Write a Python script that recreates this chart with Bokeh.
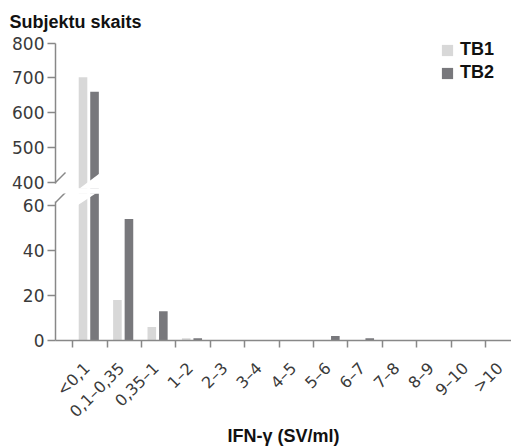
import math
from bokeh.plotting import figure
from bokeh.layouts import column
from bokeh.models import (Range1d, FixedTicker, Legend, LegendItem, Arrow,
                          ColumnDataSource, LinearAxis, CDSView, BooleanFilter)
from bokeh.transform import dodge
from bokeh.embed import file_html
from bokeh.resources import INLINE

# ---------------- data ----------------
categories = ["<0,1", "0,1–0,35", "0,35–1", "1–2", "2–3", "3–4", "4–5",
              "5–6", "6–7", "7–8", "8–9", "9–10", ">10"]
tb1 = [702, 18, 6, 1, 0, 0, 0, 0, 0, 0, 0, 0, 0]
tb2 = [660, 54, 13, 1, 0, 0, 0, 2, 1, 0, 0, 0, 0]
series_names = ["TB1", "TB2"]
upper_ticks = [400, 500, 600, 700, 800]
lower_ticks = [0, 20, 40, 60]
title_text = "Subjektu skaits"
x_title = "IFN-γ (SV/ml)"

# ---------------- style ----------------
C1 = "#d8d8d8"
C2 = "#78787c"
AX = "#888888"
TXT = "#3a3a3a"
TICKFONT = "DejaVu Sans"
BOLDFONT = "Liberation Sans"

W = 511
FRAME_L = 55
TOP_H = 193          # upper figure canvas height
TOP_FRAME_T = 38
TOP_FRAME_B = 188
BOT_FRAME_T = 0      # within lower canvas
BOT_H = 448 - TOP_H
BOT_BORDER = 108

# pixel scales (y)
TOP_SCALE = 0.3475   # px per unit
TOP_800_PX = 42.7
BOT_SCALE = 2.25

CAT_PX = 34.4
X0 = -0.5
LABEL_POS = 0.42     # label anchor inside each category
n = len(categories)

def top_v(py):
    return 800 - (py - TOP_800_PX) / TOP_SCALE

def bot_v(py):  # py in page coordinates
    return (340 - py) / BOT_SCALE

def xv(px):
    return X0 + (px - FRAME_L) / CAT_PX

top_lo = top_v(TOP_FRAME_B)
top_hi = top_v(TOP_FRAME_T)
bot_hi = bot_v(TOP_H + BOT_FRAME_T)
x_hi = xv(W)

src = ColumnDataSource(dict(xc=[i + 0.5 for i in range(n)], tb1=tb1, tb2=tb2))
x_range = Range1d(X0, x_hi)

# ---------------- upper figure ----------------
pt = figure(width=W, height=TOP_H, x_range=x_range, y_range=Range1d(top_lo, top_hi),
            output_backend="svg", toolbar_location=None, x_axis_location=None,
            min_border_left=FRAME_L, min_border_right=0, min_border_top=TOP_FRAME_T,
            min_border_bottom=TOP_H - TOP_FRAME_B)
# ---------------- lower figure ----------------
pb = figure(width=W, height=BOT_H, x_range=x_range, y_range=Range1d(0, bot_hi),
            output_backend="svg", toolbar_location=None, x_axis_location=None,
            min_border_left=FRAME_L, min_border_right=0, min_border_top=BOT_FRAME_T,
            min_border_bottom=BOT_BORDER)

# upper panel shows only the bars that reach into its value range
view1 = CDSView(filter=BooleanFilter([v > top_lo for v in tb1]))
view2 = CDSView(filter=BooleanFilter([v > top_lo for v in tb2]))

renderers = []
for p, v1, v2 in ((pt, view1, view2), (pb, None, None)):
    kw1 = dict(view=v1) if v1 is not None else {}
    kw2 = dict(view=v2) if v2 is not None else {}
    r1 = p.vbar(x=dodge("xc", -0.2, range=x_range), top="tb1", bottom=0, width=0.25,
                source=src, fill_color=C1, line_color=None, **kw1)
    r2 = p.vbar(x=dodge("xc", 0.135, range=x_range), top="tb2", bottom=0, width=0.25,
                source=src, fill_color=C2, line_color=None, **kw2)
    renderers.append((r1, r2))
    p.xgrid.visible = False
    p.ygrid.visible = False
    p.outline_line_color = None
    p.background_fill_color = "white"
    p.border_fill_color = "white"
    ax = p.yaxis[0]
    ax.axis_line_color = AX
    ax.axis_line_width = 1.5
    ax.major_tick_line_color = AX
    ax.major_tick_line_width = 1.5
    ax.major_tick_out = 8
    ax.major_tick_in = 0
    ax.minor_tick_line_color = None
    ax.major_label_text_font = TICKFONT
    ax.major_label_text_font_size = "17px"
    ax.major_label_text_color = TXT
    ax.major_label_standoff = 3

pt.yaxis[0].ticker = FixedTicker(ticks=upper_ticks)
pt.yaxis[0].bounds = (top_v(183), 800)
pb.yaxis[0].ticker = FixedTicker(ticks=lower_ticks)
pb.yaxis[0].bounds = (0, bot_v(201))

# break cut overlays (white slanted areas through broken bars)
def cut_line_top(px):
    return 188 - 0.75 * (px - 79)

def cut_line_bot(px):
    return 203.5 - 0.65 * (px - 79)

pt.patch(x=[xv(76), xv(102), xv(102), xv(76)],
         y=[top_v(cut_line_top(76)), top_v(cut_line_top(102)), top_v(200), top_v(200)],
         fill_color="white", line_color=None)
pb.patch(x=[xv(76), xv(102), xv(102), xv(76)],
         y=[bot_v(cut_line_bot(76)), bot_v(cut_line_bot(102)), bot_v(175), bot_v(175)],
         fill_color="white", line_color=None)

# break slashes on the y axis
pt.add_layout(Arrow(end=None, x_start=xv(47), y_start=top_v(190), x_end=xv(65), y_end=top_v(172),
                    line_color=AX, line_width=1.5))
pb.add_layout(Arrow(end=None, x_start=xv(47), y_start=bot_v(210), x_end=xv(65), y_end=bot_v(192),
                    line_color=AX, line_width=1.5))

# x axis of the lower figure
label_ticks = [i + LABEL_POS for i in range(n)]
xax = LinearAxis(ticker=FixedTicker(ticks=label_ticks,
                                    minor_ticks=[i for i in range(n)]))
xax.major_label_overrides = {t: c for t, c in zip(label_ticks, categories)}
xax.axis_line_color = AX
xax.axis_line_width = 1.5
xax.major_tick_line_color = None
xax.major_tick_out = 7
xax.major_tick_in = 0
xax.minor_tick_line_color = AX
xax.minor_tick_line_width = 1.5
xax.minor_tick_out = 7
xax.minor_tick_in = 0
xax.major_label_orientation = math.pi / 4
xax.major_label_text_font = TICKFONT
xax.major_label_text_font_size = "16px"
xax.major_label_text_color = TXT
xax.major_label_standoff = 18
xax.axis_label = x_title
xax.axis_label_text_font = BOLDFONT
xax.axis_label_text_font_style = "bold"
xax.axis_label_text_font_size = "18px"
xax.axis_label_text_color = "#111111"
xax.axis_label_standoff = -5
pb.add_layout(xax, "below")

# title
pt.title.text = title_text
pt.title.text_font = BOLDFONT
pt.title.text_font_style = "bold"
pt.title.text_font_size = "18px"
pt.title.text_color = "#111111"
pt.title.align = "left"
pt.title.offset = -46
pt.title.standoff = 13

# legend
r1, r2 = renderers[0]
leg = Legend(items=[LegendItem(label=series_names[0], renderers=[r1]),
                    LegendItem(label=series_names[1], renderers=[r2])],
             location=(385, 105), orientation="vertical",
             border_line_color=None, background_fill_alpha=0,
             label_text_font=BOLDFONT, label_text_font_style="bold",
             label_text_font_size="18px", label_text_color="#111111",
             glyph_width=14, glyph_height=14, label_standoff=6, spacing=2,
             padding=0, margin=0)
pt.add_layout(leg)

layout = column(pt, pb, spacing=0)
open("out.html", "w").write(file_html(layout, INLINE))
